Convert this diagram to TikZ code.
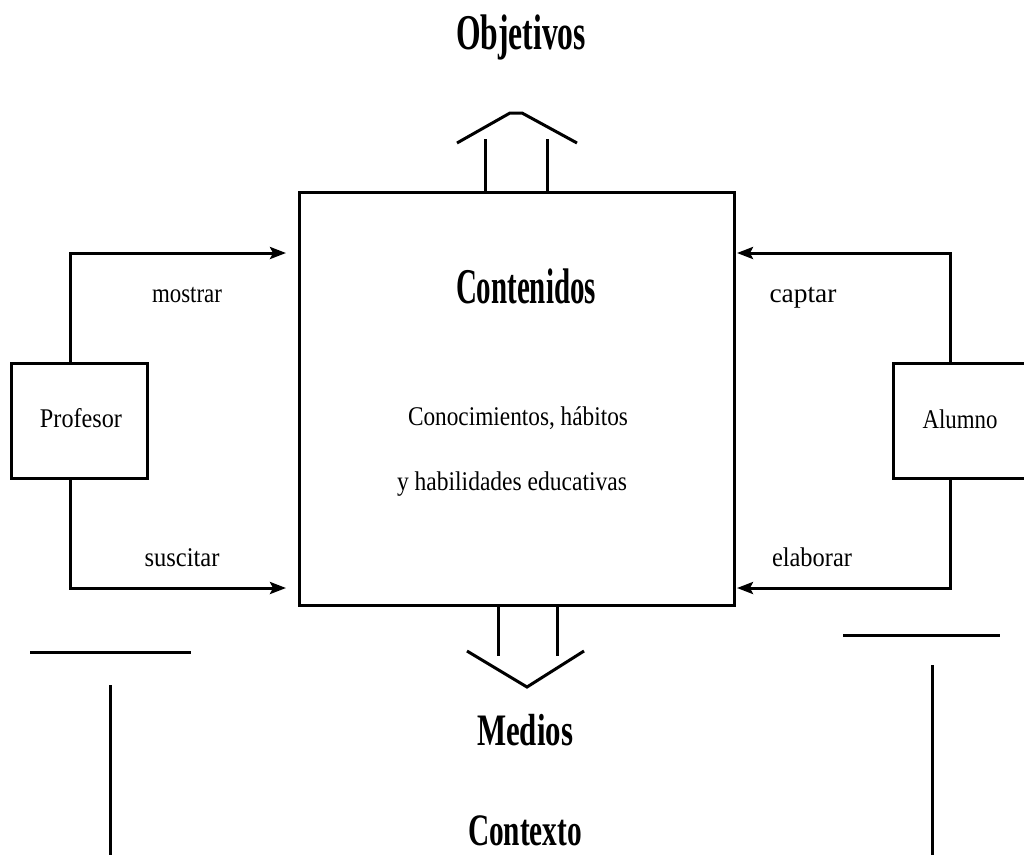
\documentclass[tikz,border=0pt]{standalone}
\usepackage{fontspec}
\usepackage{graphicx}
\setmainfont{Liberation Serif}
\usetikzlibrary{arrows.meta,calc}
\newcommand{\tx}[2]{\resizebox{#1}{\height}{#2}}
\newcommand{\hdf}{\fontsize{50}{55}\selectfont\bfseries}
\newcommand{\hdg}{\fontsize{45}{50}\selectfont\bfseries}
\newcommand{\smf}{\fontsize{27}{30}\selectfont}
\tikzset{
  ln/.style={line width=3pt, line cap=rect},
  arr/.style={ln, -{Stealth[length=16pt,width=12pt,inset=3pt]}, line cap=butt},
  lbl/.style={anchor=base, inner sep=0pt},
  boxn/.style={draw, line width=3pt, inner sep=0pt},
}
\begin{document}
\begin{tikzpicture}[x=1pt,y=-1pt]
\useasboundingbox (0,0) rectangle (1024,855);
% main box
\node[boxn, minimum width=435pt, minimum height=413pt] (box) at (516.5,398.5) {};
% side boxes
\node[boxn, minimum width=136pt, minimum height=115pt] (prof) at (79,420.5) {};
\node[boxn, minimum width=136pt, minimum height=115pt] (alum) at (961,420.5) {};
% texts
\node[lbl] (obj) at (521,49) {\tx{130pt}{\hdf Objetivos}};
\node[lbl] (cont) at (526,303) {\tx{140pt}{\hdf Contenidos}};
\node[lbl] (con1) at (518,425) {\tx{220pt}{\smf Conocimientos, hábitos}};
\node[lbl] (con2) at (512,490) {\tx{230pt}{\smf y habilidades educativas}};
\node[lbl] (proft) at (81,427) {\tx{82pt}{\smf Profesor}};
\node[lbl] (alumt) at (960,428) {\tx{75pt}{\smf Alumno}};
\node[lbl] (most) at (187,302) {\tx{70pt}{\smf mostrar}};
\node[lbl] (capt) at (803,302) {\tx{67pt}{\smf captar}};
\node[lbl] (susc) at (182,566) {\tx{75pt}{\smf suscitar}};
\node[lbl] (elab) at (812,566) {\tx{80pt}{\smf elaborar}};
\node[lbl] (med) at (525,745) {\tx{96pt}{\hdg Medios}};
\node[lbl] (ctx) at (525,845) {\tx{114pt}{\hdg Contexto}};
% arrow tips
\coordinate (mtip) at (286,253);
\coordinate (stip) at (286,588);
\coordinate (ctip) at (737,253);
\coordinate (etip) at (737,588);
\draw[arr] ($(prof.north)+(-9,0)$) |- (mtip);
\draw[arr] ($(prof.south)+(-9,0)$) |- (stip);
\draw[arr] ($(alum.north)+(-11,0)$) |- (ctip);
\draw[arr] ($(alum.south)+(-11,0)$) |- (etip);
% top open arrow (Objetivos)
\draw[ln] ($(box.north)+(-31.5,0)$) -- ++(0,-50);
\draw[ln] ($(box.north)+(30.5,0)$) -- ++(0,-50);
\draw[ln, line cap=butt, line join=miter] (457,143) -- (510,113) -- (522,113) -- (577,143);
% bottom open arrow (Medios)
\draw[ln] ($(box.south)+(-18.5,0)$) -- ++(0,48);
\draw[ln] ($(box.south)+(40.5,0)$) -- ++(0,48);
\draw[ln, line cap=butt, line join=miter] (467,651) -- (527,687) -- (584,651);
% context lines
\draw[ln, line cap=butt] (30,652) -- (191,652);
\draw[ln, line cap=butt] (843,635) -- (1000,635);
\draw[ln, line cap=butt] (110,685) -- (110,855);
\draw[ln, line cap=butt] (932,665) -- (932,855);
\end{tikzpicture}
\end{document}
